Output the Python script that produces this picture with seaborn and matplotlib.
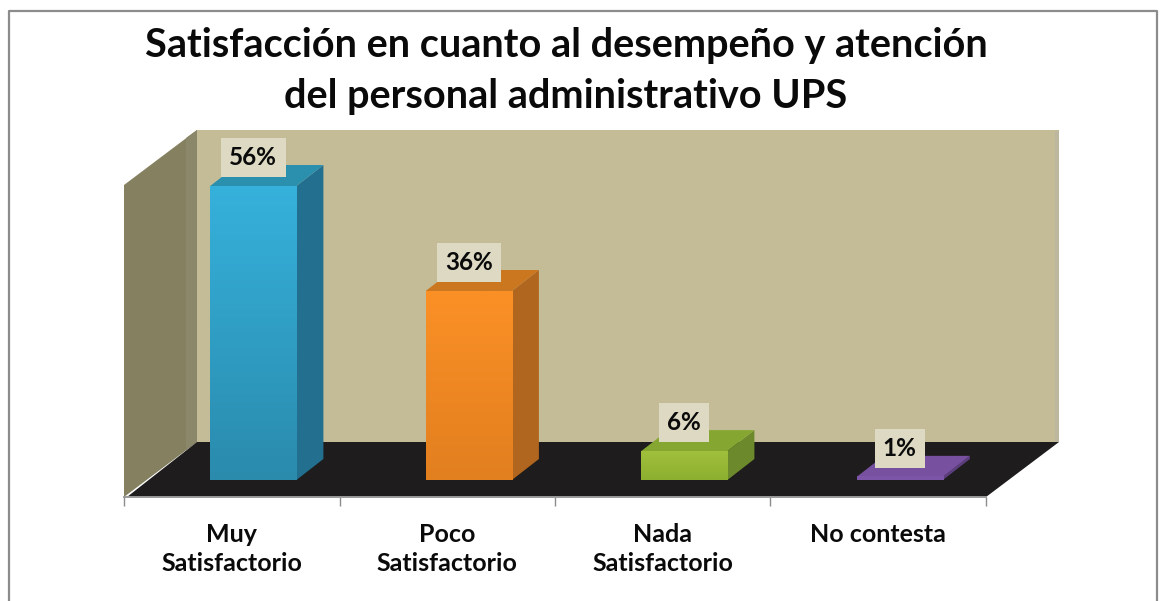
import numpy as np
import pandas as pd
import seaborn as sns
import matplotlib
matplotlib.use("Agg")
import matplotlib.pyplot as plt
from matplotlib.patches import Polygon
from matplotlib.transforms import Affine2D
from matplotlib.colors import LinearSegmentedColormap

TITLE = "Satisfacción en cuanto al desempeño y atención\ndel personal administrativo UPS"
categories = ["Muy\nSatisfactorio", "Poco\nSatisfactorio", "Nada\nSatisfactorio", "No contesta"]
values = [56, 36, 5.5, 0.6]
front_top = ["#36B1DB", "#FB9026", "#A0C03C", "#7D55A8"]
front_bottom = ["#2A8BAD", "#E27F1F", "#8DAF30", "#7D55A8"]
side_colors = ["#236F90", "#B0661E", "#6C8A2C", "#5D3F80"]
cap_colors = ["#2A90AE", "#CB771F", "#85A732", "#77509F"]

W, H = 1163, 601
sns.set_theme(style="white")
plt.rcParams["font.family"] = ["Lato", "DejaVu Sans"]

fig = plt.figure(figsize=(W / 100, H / 100), dpi=100, facecolor="white")
px = Affine2D().scale(1, -1).translate(0, H)

L, R, T, B = 124, 986, 130, 497
ax = fig.add_axes([L / W, 1 - B / H, (R - L) / W, (B - T) / H])
ax.patch.set_alpha(0)

df = pd.DataFrame({"cat": categories, "val": values})
sns.barplot(data=df, x="cat", y="val", hue="cat", palette=front_top, dodge=False,
            width=0.40, legend=False, ax=ax, saturation=1, zorder=3, linewidth=0)

xlim = (-0.6, 3.4)
ylim = ((480 - 497) / 5.25, (480 - 130) / 5.25)
ax.set_xlim(xlim)
ax.set_ylim(ylim)

# chart frame (open at the bottom), walls and floor
fig.add_artist(plt.Line2D([8.5, 8.5, 1157, 1157], [601, 11, 11, 601], color="#8C8C8C", lw=1.6, transform=px))
wall = "#C4BC96"
ax.add_patch(Polygon([(197, 130), (1059, 130), (1059, 442), (197, 442)], fc=wall, ec="none", transform=px, clip_on=False, zorder=0))
ax.add_patch(Polygon([(1055, 131), (1059, 131), (1059, 442), (1055, 442)], fc="#BDB79F", ec="none", transform=px, clip_on=False, zorder=0.1))
ax.add_patch(Polygon([(197, 130), (124, 185), (124, 497), (197, 442)], fc="#85805F", ec="none", transform=px, clip_on=False, zorder=0))
ax.add_patch(Polygon([(197, 130), (186, 138), (186, 450), (197, 442)], fc="#8A876B", ec="none", transform=px, clip_on=False, zorder=0.1))
ax.add_patch(Polygon([(127, 497), (197, 442), (1059, 442), (986, 497)], fc="#1E1C1C", ec="none", transform=px, clip_on=False, zorder=0.2))

# depth of the bars, in data units
dx, dy = 27 / 215.5, 21 / 5.25
for i, (bar, val) in enumerate(zip(ax.patches, values)):
    x0, w = bar.get_x(), bar.get_width()
    x1 = x0 + w
    ax.add_patch(Polygon([(x1, 0), (x1 + dx, dy), (x1 + dx, val + dy), (x1, val)],
                         fc=side_colors[i], ec="none", zorder=2.5))
    ax.add_patch(Polygon([(x0, val), (x1, val), (x1 + dx, val + dy), (x0 + dx, val + dy)],
                         fc=cap_colors[i], ec="none", zorder=2.6))
    cmap = LinearSegmentedColormap.from_list("f", [front_top[i], front_bottom[i]])
    ax.imshow(np.linspace(0, 1, 128).reshape(-1, 1), extent=(x0, x1, 0, val), origin="upper",
              cmap=cmap, aspect="auto", zorder=3.1)
    ax.annotate(f"{val:.0f}%", xy=(i, val), xytext=(0, 20.5), textcoords="offset points",
                ha="center", va="center", fontsize=17.5, fontweight="bold", color="#0A0A0A", zorder=5,
                annotation_clip=False,
                bbox=dict(boxstyle="square,pad=0.34", fc="#DDD9C3", ec="none"))
ax.set_xlim(xlim)
ax.set_ylim(ylim)

# axis
for s in ["top", "left", "right"]:
    ax.spines[s].set_visible(False)
ax.spines["bottom"].set_color("#9A9A9A")
ax.spines["bottom"].set_linewidth(1.4)
ax.set_yticks([])
ax.set_xlabel("")
ax.set_ylabel("")
ax.set_xticks(np.arange(len(categories)) - 0.1, labels=categories)
ax.set_xticks(np.arange(xlim[0], xlim[1] + 0.01), minor=True)
ax.tick_params(axis="x", which="minor", length=6.5, width=1, color="#8C8C8C", bottom=True)
ax.tick_params(axis="x", which="major", length=0, pad=19, labelsize=18, labelcolor="#0A0A0A")
for t in ax.get_xticklabels():
    t.set_fontweight("bold")
    t.set_linespacing(1.3)

fig.text(566 / W, 1 - 71 / H, TITLE, ha="center", va="center", fontsize=28.5, fontweight="bold",
         color="#0A0A0A", linespacing=1.45)

fig.savefig("out.png", dpi=100, facecolor="white")
